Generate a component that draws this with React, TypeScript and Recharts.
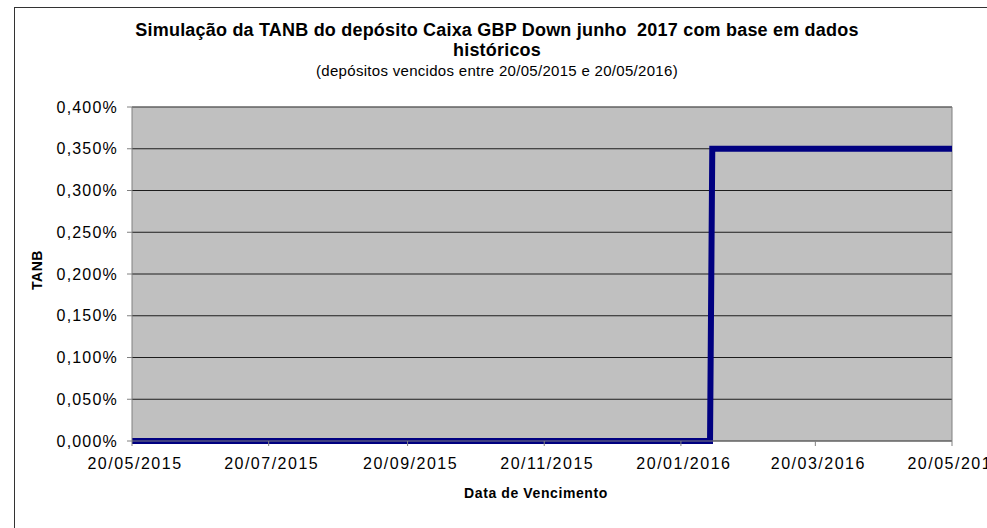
import React from 'react';
import { LineChart, Line, XAxis, YAxis, CartesianGrid, ReferenceLine, Label } from 'recharts';

const day = (d: number, m: number, y: number) => Date.UTC(y, m - 1, d);

// maturity dates and the simulated TANB (%) at each one
const dates = [day(20, 5, 2015), day(2, 2, 2016), day(3, 2, 2016), day(20, 5, 2016)];
const tanb = [0, 0, 0.35, 0.35];

const xTicks = [
  day(20, 5, 2015), day(20, 7, 2015), day(20, 9, 2015), day(20, 11, 2015),
  day(20, 1, 2016), day(20, 3, 2016), day(20, 5, 2016),
];
const yTicks = [0, 0.05, 0.1, 0.15, 0.2, 0.25, 0.3, 0.35, 0.4];

const data = dates.map((d, i) => ({ date: d, tanb: tanb[i] }));

const font = '"Liberation Sans", Arial, sans-serif';

const fmtDate = (t: number) => {
  const d = new Date(t);
  const p = (n: number) => String(n).padStart(2, '0');
  return `${p(d.getUTCDate())}/${p(d.getUTCMonth() + 1)}/${d.getUTCFullYear()}`;
};
const fmtPct = (v: number) => v.toFixed(3).replace('.', ',') + '%';

const App = () => {
  return (
    <div style={{ position: 'absolute', left: 0, top: 0, width: 987, height: 528, background: '#fff', overflow: 'hidden', fontFamily: font }}>
      <div style={{ position: 'absolute', left: 14, top: 7, width: 990, height: 540, borderLeft: '1px solid #333', borderTop: '1px solid #333' }} />
      <div style={{ position: 'absolute', left: 0, width: 994, top: 20, textAlign: 'center', fontWeight: 'bold', fontSize: 18, lineHeight: '20px', letterSpacing: 0.2, color: '#000' }}>
        Simulação da TANB do depósito Caixa GBP Down junho&nbsp; 2017 com base em dados<br />históricos
      </div>
      <div style={{ position: 'absolute', left: 0, width: 994, top: 62, textAlign: 'center', fontSize: 15, letterSpacing: 0.3, color: '#000' }}>
        (depósitos vencidos entre 20/05/2015 e 20/05/2016)
      </div>
      <LineChart width={987} height={528} data={data} margin={{ top: 107, right: 35, left: 0, bottom: 0 }}>
        <CartesianGrid vertical={false} fill="#C0C0C0" stroke="#000" strokeOpacity={0.85} />
        <XAxis
          dataKey="date"
          type="number"
          domain={[xTicks[0], xTicks[xTicks.length - 1]]}
          ticks={xTicks}
          tickFormatter={fmtDate}
          height={87}
          tickSize={5}
          tickMargin={12}
          stroke="#808080"
          tick={{ fill: '#000', fontSize: 16, fontFamily: font, letterSpacing: 1.5, dx: 3 }}
          interval={0}
        >
          <Label value="Data de Vencimento" position="insideTop" offset={47} dx={-6} style={{ fontWeight: 'bold', fontSize: 14, letterSpacing: 0.6, fill: '#000', fontFamily: font }} />
        </XAxis>
        <YAxis
          domain={[0, 0.4]}
          ticks={yTicks}
          tickFormatter={fmtPct}
          width={132}
          tickSize={5}
          tickMargin={9}
          stroke="#808080"
          tick={{ fill: '#000', fontSize: 16, fontFamily: font, letterSpacing: 1.2 }}
          interval={0}
        >
          <Label value="TANB" angle={-90} position="insideLeft" offset={37} dy={-4} style={{ fontWeight: 'bold', fontSize: 14, letterSpacing: 0.5, fill: '#000', fontFamily: font, textAnchor: 'middle' }} />
        </YAxis>
        <ReferenceLine y={0.4} stroke="#808080" />
        <ReferenceLine x={xTicks[xTicks.length - 1]} stroke="#808080" />
        <Line type="linear" dataKey="tanb" stroke="#000080" strokeWidth={6} dot={false} isAnimationActive={false} />
      </LineChart>
    </div>
  );
};

export default App;
